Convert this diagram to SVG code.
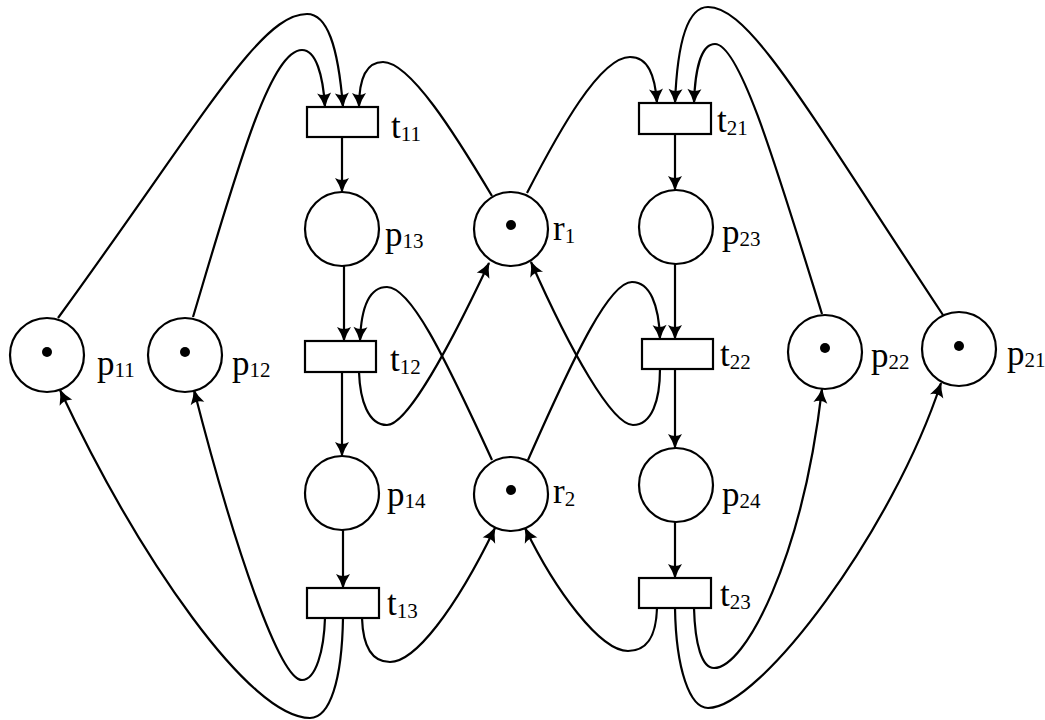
<svg xmlns="http://www.w3.org/2000/svg" width="1045" height="720" viewBox="0 0 1045 720">
<defs>
<style>
.pl{fill:#fff;stroke:#000;stroke-width:2.2}
.tr{fill:#fff;stroke:#000;stroke-width:2.2}
.tk{fill:#000}
.e{fill:none;stroke:#000;stroke-width:2.2;marker-end:url(#ar)}
.lb{font-size:35px;fill:#000}
.sb{font-size:21px}
</style>
<marker id="ar" viewBox="-16 -9 18 18" refX="0" refY="0" markerWidth="18" markerHeight="18" markerUnits="userSpaceOnUse" orient="auto">
<path d="M1,0 Q-7,-2.2 -14,-7 Q-10,0 -14,7 Q-7,2.2 1,0 Z" fill="#000"/>
</marker>
</defs>
<rect width="1045" height="720" fill="#fff"/>

<g id="connectors">
<path class="e" d="M58,318 C205,116 260,14 307,14 C327,14 338,45 343,107"/>
<path class="e" d="M193,317 C236,173 270,50 302,50 C316,50 323,75 325,107"/>
<path class="e" d="M492,196 C455,134 410,62 383,62 C365,62 359,80 359,107"/>
<path class="e" d="M527,193 C559,131 600,57 630,57 C648,57 655,75 657,103"/>
<path class="e" d="M943,315 C806,108 750,7 708,7 C685,7 677,50 675,103"/>
<path class="e" d="M822,314 C777,169 740,44 715,44 C701,44 695,70 694,103"/>
<path class="e" d="M342,137 L342,192"/>
<path class="e" d="M344,266 L344,341"/>
<path class="e" d="M342,372 L342,456"/>
<path class="e" d="M343,530 L343,588"/>
<path class="e" d="M675,134 L675,190"/>
<path class="e" d="M675,264 L675,339"/>
<path class="e" d="M675,369 L675,448"/>
<path class="e" d="M675,522 L675,578"/>
<path class="e" d="M492,460 C442,351 410,287 387,287 C368,287 361,310 360,341"/>
<path class="e" d="M359,372 C360,400 368,425 387,425 C407,425 449,348 489,263"/>
<path class="e" d="M528,460 C577,349 610,282 632,282 C650,282 659,305 660,339"/>
<path class="e" d="M660,369 C660,400 652,425 633,425 C612,425 570,350 531,262"/>
<path class="e" d="M325,618 C324,650 316,680 302,680 C280,680 235,550 194,390"/>
<path class="e" d="M343,618 C342,680 330,718 310,718 C250,718 140,560 60,390"/>
<path class="e" d="M362,618 C363,648 373,662 390,662 C415,662 455,610 495,528"/>
<path class="e" d="M657,608 C656,640 645,651 628,651 C600,651 555,590 525,528"/>
<path class="e" d="M694,608 C695,645 702,668 714,668 C745,668 802,560 822,389"/>
<path class="e" d="M675,608 C676,670 690,708 708,708 C760,708 893,530 941,383"/>
</g>

<g font-family="'Liberation Serif', 'Times New Roman', serif">
<g id="p11"><circle class="pl" cx="47" cy="355" r="37"/><circle class="tk" cx="47" cy="352" r="5"/><text class="lb" x="97" y="375">p<tspan class="sb" dy="2">11</tspan></text></g>
<g id="p12"><circle class="pl" cx="185" cy="355" r="37"/><circle class="tk" cx="185" cy="352" r="5"/><text class="lb" x="232" y="375">p<tspan class="sb" dy="2">12</tspan></text></g>
<g id="t11"><rect class="tr" x="307" y="107" width="71" height="30"/><text class="lb" x="391" y="138">t<tspan class="sb" dy="3">11</tspan></text></g>
<g id="p13"><circle class="pl" cx="342" cy="229" r="37"/><text class="lb" x="385" y="246">p<tspan class="sb" dy="2">13</tspan></text></g>
<g id="t12"><rect class="tr" x="305" y="341" width="71" height="31"/><text class="lb" x="390" y="371">t<tspan class="sb" dy="3">12</tspan></text></g>
<g id="p14"><circle class="pl" cx="342" cy="493" r="37"/><text class="lb" x="387" y="506">p<tspan class="sb" dy="2">14</tspan></text></g>
<g id="t13"><rect class="tr" x="307" y="588" width="72" height="30"/><text class="lb" x="387" y="615">t<tspan class="sb" dy="3">13</tspan></text></g>
<g id="r1"><circle class="pl" cx="511" cy="229" r="37"/><circle class="tk" cx="511" cy="225" r="5"/><text class="lb" x="553" y="240">r<tspan class="sb" dy="3">1</tspan></text></g>
<g id="r2"><circle class="pl" cx="511" cy="494" r="37"/><circle class="tk" cx="511" cy="490" r="5"/><text class="lb" x="553" y="503">r<tspan class="sb" dy="3">2</tspan></text></g>
<g id="t21"><rect class="tr" x="639" y="103" width="72" height="31"/><text class="lb" x="717" y="132">t<tspan class="sb" dy="3">21</tspan></text></g>
<g id="p23"><circle class="pl" cx="676" cy="227" r="37"/><text class="lb" x="722" y="244">p<tspan class="sb" dy="2">23</tspan></text></g>
<g id="t22"><rect class="tr" x="642" y="339" width="71" height="30"/><text class="lb" x="720" y="366">t<tspan class="sb" dy="3">22</tspan></text></g>
<g id="p24"><circle class="pl" cx="676" cy="485" r="37"/><text class="lb" x="722" y="506">p<tspan class="sb" dy="2">24</tspan></text></g>
<g id="t23"><rect class="tr" x="639" y="578" width="72" height="30"/><text class="lb" x="720" y="606">t<tspan class="sb" dy="3">23</tspan></text></g>
<g id="p22"><circle class="pl" cx="825" cy="352" r="37"/><circle class="tk" cx="825" cy="348" r="5"/><text class="lb" x="871" y="367">p<tspan class="sb" dy="2">22</tspan></text></g>
<g id="p21"><circle class="pl" cx="959" cy="349" r="37"/><circle class="tk" cx="959" cy="346" r="5"/><text class="lb" x="1007" y="365">p<tspan class="sb" dy="2">21</tspan></text></g>
</g>
</svg>
